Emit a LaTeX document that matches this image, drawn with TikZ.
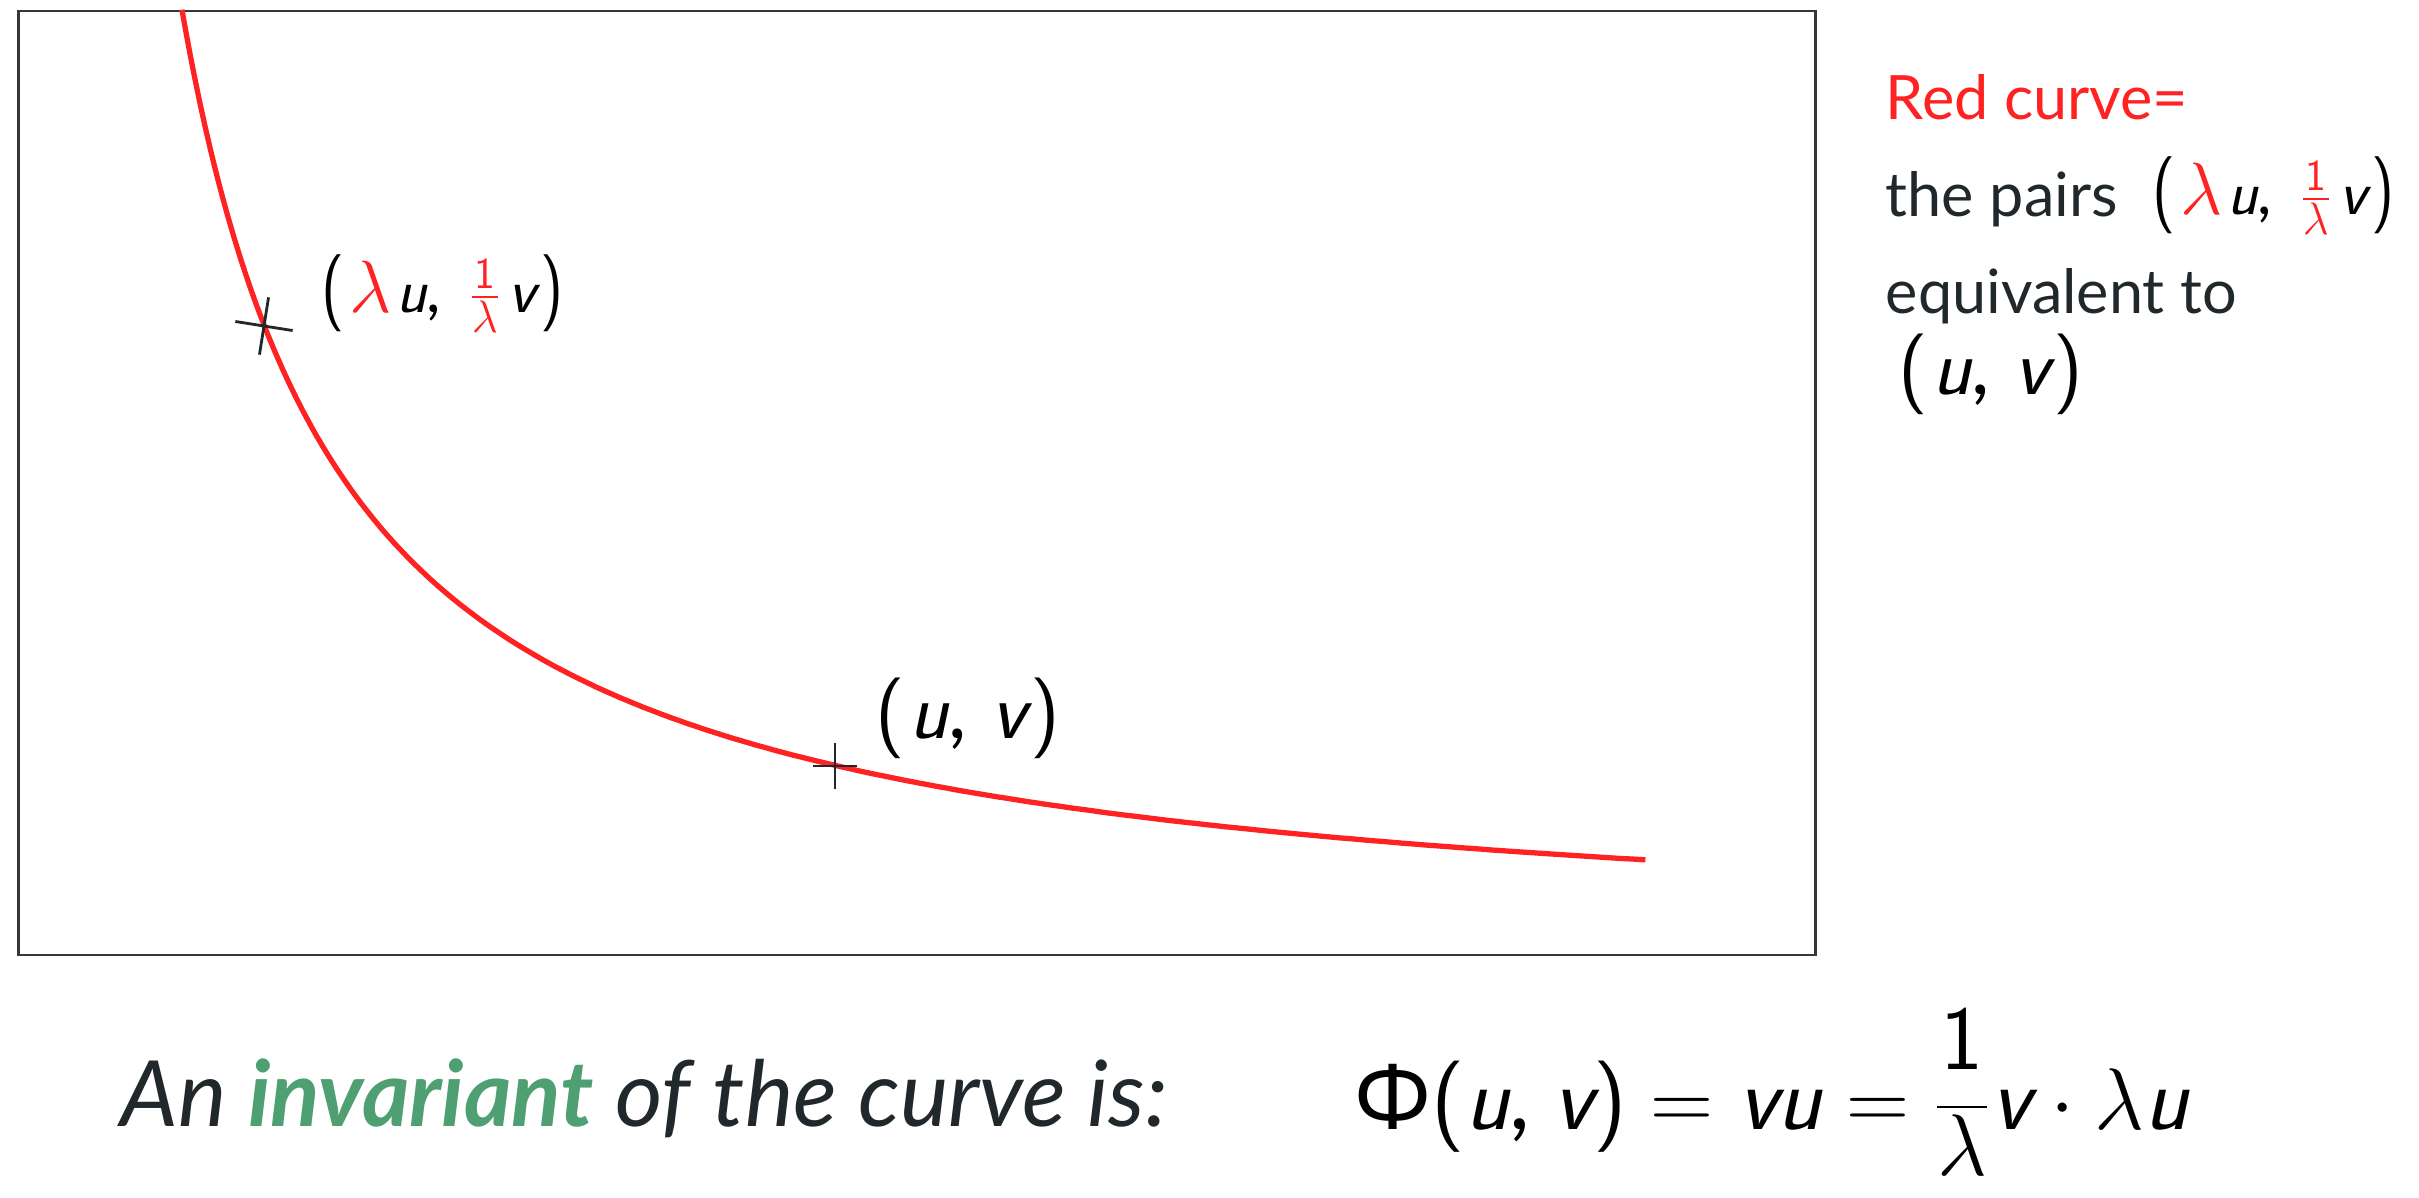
\documentclass[tikz,border=0pt]{standalone}
\usepackage{fontspec}
\setmainfont{Lato}
\newfontfamily\gkfont{Noto Sans}
\definecolor{cRed}{RGB}{255,34,34}
\definecolor{cInk}{RGB}{33,40,44}
\definecolor{cGreen}{RGB}{78,159,114}
\definecolor{cFrame}{RGB}{55,55,55}
\newcommand\mU{{\sffamily\itshape u}}
\newcommand\mV{{\sffamily\itshape v}}
\newcommand\mL{\ensuremath{\lambda}}
\newcommand\mOne{{\sffamily 1}}
\newcommand\mPar[1]{{\sffamily(}#1{\sffamily)}}
\newcommand\tallPar[1]{{\sffamily\scalebox{1}[1.22]{(}}#1{\sffamily\scalebox{1}[1.22]{)}}}
\newcommand\smallfr{\ensuremath{\frac{\hbox{\scalebox{0.7}{\mOne}}}{\hbox{\scalebox{0.75}{\mL}}}}}
\newcommand\pairLam{\tallPar{\hspace{0.08em}{\color{cRed}\scalebox{1.22}{\mL}}\hspace{0.06em}\mU,\hspace{0.42em}{\color{cRed}\smallfr}\hspace{0.1em}\mV\hspace{0.08em}}}
\newcommand\pairUV{\mPar{\hspace{0.05em}\mU,\hspace{0.3em}\mV\hspace{0.05em}}}
\newcommand\bigfr{\ensuremath{\displaystyle\frac{\hbox{\mOne}}{\smash{\raisebox{0.15em}{$\lambda$}}}}}
\begin{document}
\begin{tikzpicture}[x=1cm,y=-1cm,
  txt/.style={inner sep=0pt, anchor=base west, text=cInk},
  crossline/.style={draw=cInk, line width=0.8pt},
  curveline/.style={draw=cRed, line width=1.5pt},
  framebox/.style={draw=cFrame, line width=0.7pt}]
\useasboundingbox (0,0) rectangle (24.19,11.97);
\draw[framebox] (0.185,0.11) rectangle (18.155,9.55);
\draw[curveline] plot[domain=0.4947:2.7924, samples=300, variable=\t] ({0.18+exp(\t)}, {9.55-15.5*exp(-\t)});
\coordinate (p1) at (2.64,3.26);
\coordinate (p2) at (8.35,7.66);
\draw[crossline, shift={(p1)}, rotate=-9] (-0.29,0) -- (0.29,0) (0,-0.29) -- (0,0.29);
\draw[crossline, shift={(p2)}] (-0.22,0) -- (0.22,0) (0,-0.23) -- (0,0.23);
\node[txt, text=black, font=\fontsize{18}{20}\selectfont] (l1) at (3.21,3.12) {\pairLam};
\node[txt, text=black, font=\fontsize{23}{26}\selectfont] (l2) at (8.75,7.38) {\pairUV};
\node[txt, text=cRed, font=\fontsize{17.4}{20}\selectfont] (r1) at (18.85,1.19) {Red curve=};
\node[txt, font=\fontsize{17.4}{20}\selectfont] (r2) at (18.85,2.16) {the pairs};
\node[txt, text=black, font=\fontsize{18}{20}\selectfont] (r2m) at (21.52,2.14) {\pairLam};
\node[txt, font=\fontsize{17.4}{20}\selectfont] (r3) at (18.85,3.13) {equivalent to};
\node[txt, text=black, font=\fontsize{23}{26}\selectfont] (r4) at (18.98,3.94) {\pairUV};
\node[txt, font=\fontsize{26}{30}\selectfont\itshape] (inv) at (1.20,11.26)
  {An {\bfseries\color{cGreen}invariant} of the curve is:};
\node[txt, text=black, font=\fontsize{26}{30}\selectfont] (phi) at (13.54,11.29)
  {$\hbox{\gkfont Φ}\hbox{\mPar{\mU,\ \mV}} = \hbox{\mV\mU} = \bigfr\hbox{\mV}\cdot\hbox{\mL\mU}$};
\end{tikzpicture}
\end{document}
